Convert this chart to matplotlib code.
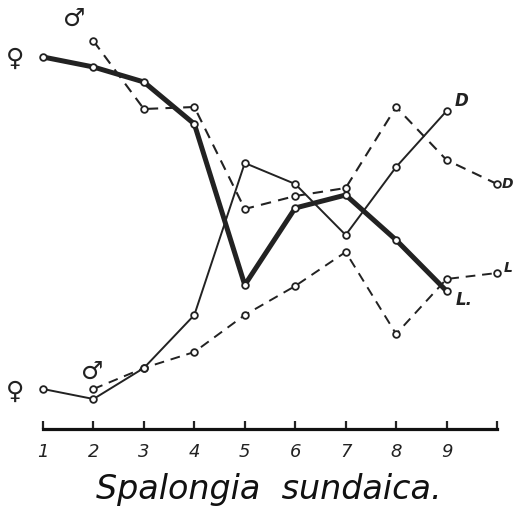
import matplotlib
matplotlib.use('Agg')
import matplotlib.pyplot as plt


# stages along the axis
stages = [1, 2, 3, 4, 5, 6, 7, 8, 9, 10]
tick_labels = ['1', '2', '3', '4', '5', '6', '7', '8', '9', '']

# females, light series (thick line)
fem_light_x = [1, 2, 3, 4, 5, 6, 7, 8, 9]
fem_light = [37.2, 36.2, 34.7, 30.5, 14.4, 22.1, 23.4, 18.9, 13.8]

# males, dark series (upper dashed line)
male_dark_x = [2, 3, 4, 5, 6, 7, 8, 9, 10]
male_dark = [38.8, 32.0, 32.2, 22.0, 23.3, 24.1, 32.2, 26.9, 24.5]

# females, dark series (thin line)
fem_dark_x = [1, 2, 3, 4, 5, 6, 7, 8, 9]
fem_dark = [4.0, 3.0, 6.1, 11.4, 26.6, 24.5, 19.4, 26.2, 31.8]

# males, light series (lower dashed line)
male_light_x = [2, 3, 4, 5, 6, 7, 8, 9, 10]
male_light = [4.0, 6.1, 7.7, 11.4, 14.3, 17.7, 9.5, 15.0, 15.6]


def main():
    fig = plt.figure(figsize=(5.14, 5.12), dpi=100)
    ax = fig.add_axes([0, 0, 1, 1])
    ax.set_xlim(0.1475, 10.337)
    ax.set_ylim(-8.3, 42.9)

    mk = dict(marker='o', markersize=4.8, markerfacecolor='white',
              markeredgecolor='#222222', markeredgewidth=1.3, color='#222222')

    ax.plot(fem_dark_x, fem_dark, lw=1.4, zorder=2, **mk)
    ax.plot(male_dark_x, male_dark, lw=1.5, ls=(0, (5, 3.5)), zorder=2, **mk)
    ax.plot(male_light_x, male_light, lw=1.4, ls=(0, (5, 3.5)), zorder=2, **mk)
    ax.plot(fem_light_x, fem_light, lw=3.6, zorder=3, solid_capstyle='round',
            **mk)

    # sex symbols at the start of each curve
    sym = dict(fontsize=18, fontweight='bold', color='#222222',
               ha='center', va='center')
    ax.text(0.45, fem_light[0] - 0.2, '\u2640', **sym)
    ax.text(1.62, male_dark[0] + 2.2, '\u2642', **sym)
    ax.text(0.45, fem_dark[0] - 0.3, '\u2640', **sym)
    ax.text(1.98, male_light[0] + 1.7, '\u2642', **sym)

    # end labels
    lab = dict(fontweight='bold', fontstyle='italic', color='#222222',
               va='center')
    ax.text(fem_dark_x[-1] + 0.17, fem_dark[-1] + 1.0, 'D', fontsize=12, **lab)
    ax.text(male_dark_x[-1] + 0.09, male_dark[-1], 'D', fontsize=10, **lab)
    ax.text(male_light_x[-1] + 0.14, male_light[-1] + 0.5, 'L', fontsize=10,
            **lab)
    ax.text(fem_light_x[-1] + 0.18, fem_light[-1] - 0.9, 'L.', fontsize=12,
            **lab)

    for side in ['top', 'left', 'right']:
        ax.spines[side].set_visible(False)
    ax.spines['bottom'].set_position(('data', 0))
    ax.spines['bottom'].set_bounds(1, 10)
    ax.spines['bottom'].set_linewidth(2.3)
    ax.spines['bottom'].set_color('#111111')
    ax.set_xticks(stages)
    ax.set_xticklabels(tick_labels, fontsize=13, fontstyle='italic',
                       color='#222222')
    ax.tick_params(axis='x', direction='in', length=6, width=1.6,
                   pad=10, colors='#222222')
    ax.set_yticks([])

    fig.text(0.523, 0.043, 'Spalongia  sundaica.', fontsize=24,
             fontstyle='italic', ha='center', va='center', color='#111111')

    fig.savefig('out.png', dpi=100, facecolor='white')


if __name__ == "__main__":
    main()
